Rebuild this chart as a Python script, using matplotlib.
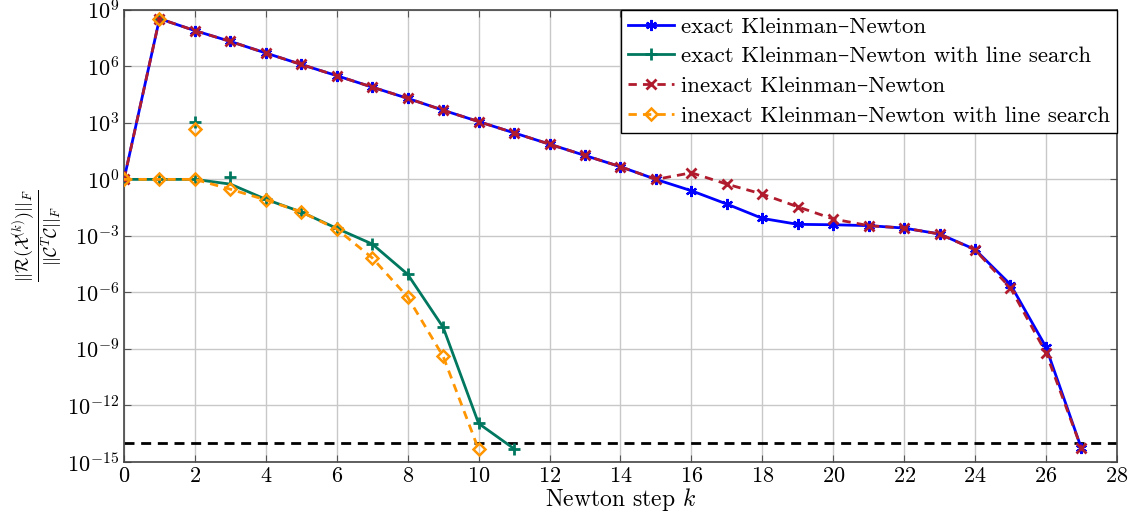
import numpy as np
import matplotlib
matplotlib.use("Agg")
import matplotlib.pyplot as plt
from matplotlib.ticker import NullLocator, FixedLocator

plt.rcParams['font.family'] = ['cmr10', 'DejaVu Serif']
plt.rcParams['mathtext.fontset'] = 'cm'
plt.rcParams['axes.unicode_minus'] = False
plt.rcParams['axes.formatter.use_mathtext'] = True

# Newton steps and relative residuals
k_exact = list(range(28))
res_exact = [1.0, 3.4e8, 7.9e7, 2.1e7, 5.1e6, 1.26e6, 3.2e5, 7.9e4, 2.0e4, 4.7e3,
             1.17e3, 295, 74, 18.6, 4.7, 1.0, 0.25, 0.049, 8.5e-3, 4.1e-3,
             3.9e-3, 3.5e-3, 2.6e-3, 1.26e-3, 1.9e-4, 2.6e-6, 1.26e-9, 5.2e-15]

k_inexact = list(range(28))
res_inexact = [1.0, 3.4e8, 7.9e7, 2.1e7, 5.1e6, 1.26e6, 3.2e5, 7.9e4, 2.0e4, 4.7e3,
               1.17e3, 295, 74, 18.6, 4.7, 1.0, 2.24, 0.56, 0.166, 0.035,
               7.9e-3, 3.5e-3, 2.6e-3, 1.26e-3, 1.8e-4, 1.7e-6, 6.3e-10, 5.2e-15]

k_exact_ls = list(range(12))
res_exact_ls = [1.0, 1.0, 1.0, 0.56, 0.087, 0.0186, 2.5e-3, 3.7e-4, 9.1e-6, 1.4e-8,
                1.1e-13, 5e-15]
# full-step values that the line search rejected
k_exact_trial = [1, 2, 3]
res_exact_trial = [3.4e8, 1.1e3, 1.26]

k_inexact_ls = list(range(11))
res_inexact_ls = [1.0, 1.0, 1.0, 0.3, 0.081, 0.0186, 2.3e-3, 6.8e-5, 5.6e-7, 4e-10,
                  4.6e-15]
k_inexact_trial = [1, 2]
res_inexact_trial = [3.4e8, 4.7e2]

tol = 1e-14

blue = '#0000ff'
green = '#00775f'
red = '#b01c2e'
orange = '#ff9500'

fig = plt.figure(figsize=(11.42, 5.19), dpi=100)
ax = fig.add_axes([0.1086, 0.110, 0.8694, 0.871])

ax.axhline(tol, color='black', lw=2, ls=(0, (3.6, 2.4)), zorder=2)

ax.plot(k_exact, res_exact, color=blue, lw=2, marker=(6, 2, 0), ms=8, mew=1.6,
        label='exact Kleinman–Newton', zorder=3)
mark_green = [i for i in range(len(k_exact_ls)) if i != 3]
ax.plot(k_exact_ls, res_exact_ls, color=green, lw=2, marker='+', ms=9, mew=2,
        markevery=mark_green, label='exact Kleinman–Newton with line search', zorder=3)
ax.plot(k_exact_trial, res_exact_trial, ls='none', color=green, marker='+', ms=9,
        mew=2, zorder=3)
ax.plot(k_inexact, res_inexact, color=red, lw=2, ls=(0, (3, 2.2)), marker='x', ms=7,
        mew=2, label='inexact Kleinman–Newton', zorder=4)
ax.plot(k_inexact_ls, res_inexact_ls, color=orange, lw=2, ls=(0, (3, 2.2)), marker='D',
        ms=5.8, mew=1.8, mfc='none', label='inexact Kleinman–Newton with line search',
        zorder=4)
ax.plot(k_inexact_trial, res_inexact_trial, ls='none', color=orange, marker='D', ms=5.8,
        mew=1.8, mfc='none', zorder=4)

ax.set_yscale('log')
ax.set_xlim(0, 28)
ax.set_ylim(1e-15, 1e9)
ax.set_xticks(range(0, 29, 2))
ax.yaxis.set_major_locator(FixedLocator([10.0 ** e for e in range(-15, 10, 3)]))
ax.yaxis.set_minor_locator(NullLocator())

ax.grid(True, color='#c8c8c8', lw=1)
ax.set_axisbelow(True)
ax.tick_params(direction='in', top=True, right=True, labelsize=16, length=5,
               color='#555555')
for s in ax.spines.values():
    s.set_color('#444444')
    s.set_linewidth(1.2)

ax.set_xlabel('Newton step $k$', fontsize=17, labelpad=0)
ax.set_ylabel(r'$\frac{||\mathcal{R}(\mathcal{X}^{(k)})||_F}{||\mathcal{C}^T\mathcal{C}||_F}$',
              fontsize=18.5, labelpad=2)

leg = ax.legend(loc='upper right', fontsize=16.5, frameon=True, fancybox=False,
                borderaxespad=0, numpoints=1, handlelength=2.0, labelspacing=0.42,
                borderpad=0.3, handletextpad=0.3)
leg.get_frame().set_edgecolor('black')
leg.get_frame().set_linewidth(1)
leg.get_frame().set_alpha(1)

fig.savefig('out.png', dpi=100)
